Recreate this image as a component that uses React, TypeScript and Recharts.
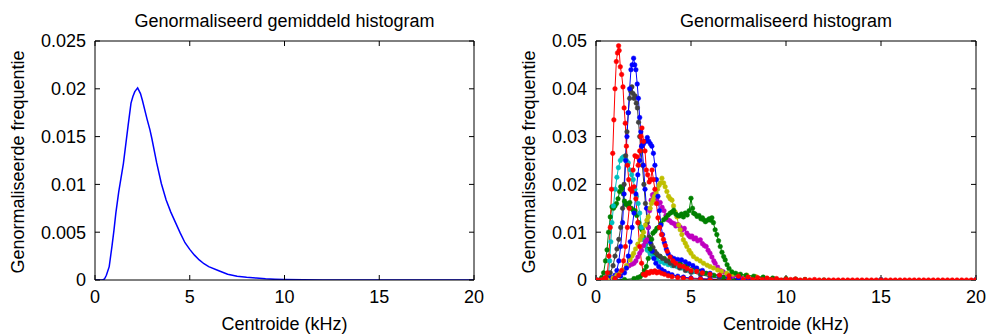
import { LineChart, Line, XAxis, YAxis } from 'recharts';

type Pt = [number, number];

const xTicks = [0, 5, 10, 15, 20];
const meanTicks = [0, 0.005, 0.01, 0.015, 0.02, 0.025];
const perTicks = [0, 0.01, 0.02, 0.03, 0.04, 0.05];

// averaged normalised histogram (kHz, freq)
const meanHist: Pt[] = [
  [0, 0], [0.25, 0], [0.4, 0], [0.5, 0.0001], [0.6, 0.0005], [0.75, 0.0014], [0.9, 0.0036],
  [1.0, 0.0052], [1.1, 0.007], [1.25, 0.0092], [1.5, 0.0122], [1.75, 0.0162], [1.9, 0.0185],
  [2.0, 0.0192], [2.1, 0.0197], [2.25, 0.0201], [2.4, 0.0195], [2.5, 0.0188], [2.75, 0.0168],
  [2.9, 0.0157], [3.0, 0.0148], [3.25, 0.0123], [3.5, 0.0101], [3.75, 0.0084], [4.0, 0.0071],
  [4.25, 0.006], [4.5, 0.0049], [4.75, 0.0039], [5.0, 0.0032], [5.25, 0.0026], [5.5, 0.0021],
  [5.75, 0.0017], [6.0, 0.0014], [6.5, 0.001], [7.0, 0.0006], [7.5, 0.0004], [8.0, 0.00028],
  [8.5, 0.0002], [9.0, 0.00012], [9.5, 0.00007], [10, 0.00004], [11, 0.00002], [12, 0], [20, 0],
];

// individual normalised histograms
const greenA: Pt[] = [
  [0, 0], [0.2, 0], [0.3, 0.0005], [0.4, 0.0015], [0.5, 0.004], [0.58, 0.0063], [0.66, 0.01],
  [0.75, 0.0132], [0.84, 0.0153], [0.92, 0.015], [1.0, 0.0155], [1.08, 0.016], [1.16, 0.017],
  [1.24, 0.0185], [1.3, 0.0195], [1.37, 0.0192], [1.44, 0.018], [1.5, 0.0165], [1.57, 0.0158],
  [1.63, 0.016], [1.7, 0.0155], [1.78, 0.0162], [1.86, 0.015], [1.96, 0.0146], [2.05, 0.0145],
  [2.15, 0.0135], [2.25, 0.012], [2.35, 0.011], [2.42, 0.0105], [2.5, 0.009], [2.6, 0.0075],
  [2.7, 0.0065], [2.85, 0.0058], [3.0, 0.0052], [3.2, 0.0049], [3.38, 0.0049], [3.6, 0.0045],
  [3.8, 0.004], [4.1, 0.0037], [4.43, 0.0035], [4.8, 0.003], [5.2, 0.0022], [5.5, 0.0018],
  [5.8, 0.0014], [6.2, 0.001], [6.7, 0.0006], [7.2, 0.0003], [8, 0.0001], [9, 0], [10, 0], [15, 0], [20, 0],
];

const cyan: Pt[] = [
  [0, 0], [0.3, 0], [0.5, 0.0005], [0.6, 0.001], [0.66, 0.0014], [0.72, 0.004], [0.78, 0.008],
  [0.84, 0.012], [0.92, 0.0155], [1.01, 0.019], [1.1, 0.0215], [1.18, 0.0235], [1.28, 0.025],
  [1.37, 0.0255], [1.45, 0.0258], [1.52, 0.0255], [1.6, 0.025], [1.7, 0.0245], [1.8, 0.023],
  [1.88, 0.022], [1.96, 0.021], [2.05, 0.019], [2.13, 0.0175], [2.22, 0.016], [2.3, 0.014],
  [2.4, 0.011], [2.5, 0.0084], [2.6, 0.0072], [2.7, 0.0062], [2.85, 0.0055], [3.0, 0.0048],
  [3.2, 0.0042], [3.4, 0.0038], [3.6, 0.0035], [3.8, 0.0032], [4.0, 0.003], [4.26, 0.0028],
  [4.5, 0.0025], [4.8, 0.002], [5.1, 0.0017], [5.5, 0.0014], [6, 0.001], [6.5, 0.0006],
  [7, 0.0003], [8, 0.0001], [9, 0], [10, 0], [15, 0], [20, 0],
];

const gray: Pt[] = [
  [0, 0], [0.4, 0], [0.6, 0.0005], [0.75, 0.0015], [0.9, 0.003], [1.0, 0.005], [1.1, 0.0065],
  [1.2, 0.0085], [1.3, 0.011], [1.4, 0.015], [1.48, 0.02], [1.56, 0.026], [1.63, 0.031],
  [1.7, 0.035], [1.77, 0.038], [1.83, 0.0395], [1.89, 0.0404], [1.95, 0.039], [2.0, 0.038],
  [2.06, 0.0385], [2.12, 0.037], [2.18, 0.036], [2.24, 0.033], [2.3, 0.03], [2.37, 0.027],
  [2.44, 0.024], [2.52, 0.02], [2.6, 0.016], [2.7, 0.012], [2.8, 0.009], [2.9, 0.0075],
  [3.0, 0.0068], [3.1, 0.006], [3.2, 0.0055], [3.35, 0.005], [3.5, 0.0045], [3.7, 0.004],
  [3.9, 0.0035], [4.1, 0.003], [4.4, 0.0025], [4.7, 0.002], [5.0, 0.0016], [5.5, 0.0011],
  [6, 0.0007], [6.5, 0.0004], [7, 0.0002], [8, 0], [10, 0], [15, 0], [20, 0],
];

const blueA: Pt[] = [
  [0, 0], [0.5, 0], [0.8, 0.0005], [1.0, 0.001], [1.1, 0.002], [1.2, 0.004], [1.3, 0.007],
  [1.4, 0.012], [1.48, 0.018], [1.56, 0.025], [1.63, 0.03], [1.7, 0.035], [1.77, 0.04],
  [1.84, 0.044], [1.9, 0.045], [1.98, 0.0464], [2.04, 0.045], [2.1, 0.044], [2.17, 0.041],
  [2.23, 0.038], [2.3, 0.034], [2.36, 0.031], [2.42, 0.028], [2.5, 0.024], [2.58, 0.019],
  [2.66, 0.015], [2.75, 0.011], [2.85, 0.008], [2.95, 0.006], [3.05, 0.0045], [3.15, 0.0035],
  [3.3, 0.0028], [3.45, 0.0022], [3.6, 0.0018], [3.8, 0.0014], [4.0, 0.0011], [4.3, 0.0008],
  [4.6, 0.0006], [5.0, 0.0004], [5.5, 0.0003], [6, 0.0002], [7, 0.0001], [8, 0], [10, 0], [15, 0], [20, 0],
];

const magenta: Pt[] = [
  [0, 0], [0.6, 0], [0.9, 0.0003], [1.1, 0.0008], [1.28, 0.0014], [1.45, 0.002], [1.6, 0.0025],
  [1.75, 0.003], [1.9, 0.0033], [2.0, 0.0035], [2.1, 0.004], [2.2, 0.0048], [2.3, 0.0056],
  [2.4, 0.0062], [2.5, 0.0072], [2.6, 0.008], [2.68, 0.0084], [2.75, 0.011], [2.82, 0.0145],
  [2.9, 0.0167], [2.97, 0.0178], [3.05, 0.018], [3.12, 0.0175], [3.2, 0.017], [3.28, 0.016],
  [3.38, 0.0162], [3.48, 0.0152], [3.58, 0.0145], [3.68, 0.0135], [3.78, 0.0126], [3.88, 0.0124],
  [3.98, 0.012], [4.1, 0.0118], [4.2, 0.0113], [4.3, 0.0116], [4.43, 0.0111], [4.55, 0.0105],
  [4.65, 0.0108], [4.78, 0.0098], [4.88, 0.0093], [4.96, 0.009], [5.05, 0.0092], [5.15, 0.0086],
  [5.25, 0.0088], [5.35, 0.0082], [5.49, 0.0084], [5.6, 0.0076], [5.7, 0.0072], [5.8, 0.007],
  [5.9, 0.0062], [6.0, 0.0056], [6.1, 0.0048], [6.2, 0.004], [6.27, 0.0035], [6.4, 0.0027],
  [6.55, 0.002], [6.7, 0.0017], [6.9, 0.0012], [7.2, 0.0008], [7.6, 0.0005], [8, 0.0003],
  [9, 0.0001], [10, 0], [15, 0], [20, 0],
];

const yellow: Pt[] = [
  [0, 0], [0.6, 0], [0.9, 0.0004], [1.1, 0.001], [1.3, 0.0016], [1.45, 0.0021], [1.6, 0.003],
  [1.8, 0.0042], [1.9, 0.005], [1.98, 0.0056], [2.08, 0.0065], [2.2, 0.0075], [2.33, 0.0084],
  [2.42, 0.0092], [2.5, 0.01], [2.6, 0.0115], [2.68, 0.0125], [2.75, 0.0132], [2.85, 0.015],
  [2.92, 0.016], [3.0, 0.0167], [3.08, 0.0175], [3.16, 0.0182], [3.24, 0.019], [3.32, 0.0198],
  [3.38, 0.0203], [3.47, 0.0213], [3.56, 0.0203], [3.64, 0.0195], [3.73, 0.0185], [3.82, 0.0175],
  [3.9, 0.017], [4.0, 0.0167], [4.08, 0.0155], [4.17, 0.0142], [4.26, 0.0132], [4.35, 0.0115],
  [4.43, 0.0105], [4.52, 0.0095], [4.6, 0.0084], [4.7, 0.0077], [4.78, 0.007], [4.9, 0.0062],
  [5.0, 0.0056], [5.13, 0.0049], [5.3, 0.0044], [5.48, 0.004], [5.66, 0.0035], [5.85, 0.0031],
  [6.0, 0.0028], [6.18, 0.0025], [6.4, 0.0021], [6.6, 0.0018], [6.88, 0.0014], [7.2, 0.0012],
  [7.5, 0.0011], [7.94, 0.001], [8.4, 0.0007], [9, 0.0003], [10, 0.0001], [11, 0], [15, 0], [20, 0],
];

const greenB: Pt[] = [
  [0, 0], [1.0, 0], [1.5, 0.0001], [2.0, 0.0003], [2.2, 0.0005], [2.33, 0.0007], [2.45, 0.0012],
  [2.55, 0.002], [2.65, 0.0028], [2.75, 0.0045], [2.85, 0.0065], [2.93, 0.0085], [3.0, 0.0098],
  [3.1, 0.0102], [3.2, 0.0108], [3.3, 0.011], [3.42, 0.0118], [3.56, 0.0126], [3.68, 0.013],
  [3.8, 0.0136], [3.91, 0.014], [4.0, 0.0142], [4.09, 0.0146], [4.2, 0.0138], [4.3, 0.0135],
  [4.4, 0.0134], [4.5, 0.0138], [4.6, 0.0132], [4.7, 0.014], [4.8, 0.0136], [4.9, 0.0145],
  [5.0, 0.0171], [5.08, 0.015], [5.13, 0.014], [5.22, 0.0138], [5.32, 0.0133], [5.42, 0.0135],
  [5.52, 0.0128], [5.6, 0.013], [5.66, 0.0126], [5.76, 0.0122], [5.86, 0.0125], [5.96, 0.0128],
  [6.04, 0.0125], [6.1, 0.013], [6.18, 0.012], [6.27, 0.0105], [6.36, 0.0095], [6.45, 0.0082],
  [6.54, 0.007], [6.63, 0.0058], [6.72, 0.0049], [6.8, 0.0042], [6.9, 0.0032], [7.0, 0.0024],
  [7.15, 0.0017], [7.35, 0.0014], [7.6, 0.0012], [7.9, 0.001], [8.3, 0.0008], [8.8, 0.0006],
  [9.3, 0.0004], [10, 0.0003], [10.5, 0.0002], [11, 0.0001], [12, 0], [15, 0], [20, 0],
];

const blueB: Pt[] = [
  [0, 0], [0.5, 0], [1.0, 0.0003], [1.3, 0.0008], [1.5, 0.0015], [1.6, 0.0025], [1.7, 0.005],
  [1.8, 0.008], [1.9, 0.011], [2.0, 0.014], [2.1, 0.018], [2.2, 0.022], [2.3, 0.025], [2.4, 0.028],
  [2.5, 0.0285], [2.6, 0.029], [2.7, 0.0298], [2.78, 0.029], [2.86, 0.0285], [2.94, 0.028],
  [3.02, 0.0265], [3.1, 0.024], [3.18, 0.021], [3.26, 0.0175], [3.34, 0.0145], [3.42, 0.0115],
  [3.5, 0.0095], [3.6, 0.0078], [3.7, 0.0065], [3.8, 0.0055], [3.95, 0.0048], [4.1, 0.0045],
  [4.3, 0.0043], [4.5, 0.0042], [4.7, 0.0038], [4.9, 0.0034], [5.1, 0.003], [5.3, 0.0025],
  [5.6, 0.002], [6.0, 0.0014], [6.5, 0.0009], [7, 0.0005], [7.5, 0.0003], [8, 0.0001], [9, 0],
  [10, 0], [15, 0], [20, 0],
];

const redB: Pt[] = [
  [0, 0], [0.5, 0], [1.0, 0.0003], [1.2, 0.001], [1.35, 0.002], [1.45, 0.004], [1.55, 0.007],
  [1.65, 0.011], [1.75, 0.015], [1.85, 0.019], [1.95, 0.023], [2.05, 0.026], [2.15, 0.0258],
  [2.22, 0.024], [2.3, 0.027], [2.36, 0.03], [2.42, 0.0318], [2.5, 0.029], [2.58, 0.027],
  [2.65, 0.023], [2.72, 0.022], [2.8, 0.0205], [2.88, 0.021], [2.95, 0.023], [3.02, 0.021],
  [3.1, 0.019], [3.18, 0.016], [3.26, 0.013], [3.35, 0.011], [3.45, 0.0095], [3.55, 0.0085],
  [3.65, 0.0072], [3.75, 0.006], [3.9, 0.0048], [4.05, 0.004], [4.2, 0.0035], [4.4, 0.003],
  [4.6, 0.0028], [4.8, 0.0024], [5.0, 0.002], [5.3, 0.0018], [5.6, 0.0015], [6.0, 0.0012],
  [6.5, 0.001], [7.0, 0.0009], [7.5, 0.0008], [8.0, 0.0006], [8.5, 0.0005], [9.0, 0.0004],
  [9.5, 0.0003], [10, 0.0002], [10.5, 0.0002], [11, 0.0001], [11.5, 0.0001], [12, 0],
  [12.5, 0], [13, 0], [13.5, 0], [14, 0], [14.5, 0], [15, 0], [15.5, 0], [16, 0], [16.5, 0],
  [17, 0], [17.5, 0], [18, 0], [18.5, 0], [19, 0], [19.5, 0], [20, 0],
];

const redA: Pt[] = [
  [0, 0], [0.2, 0], [0.4, 0.0002], [0.5, 0.0005], [0.6, 0.0015], [0.68, 0.005], [0.75, 0.011],
  [0.82, 0.019], [0.88, 0.0265], [0.94, 0.0335], [1.0, 0.04], [1.07, 0.0457], [1.13, 0.0475],
  [1.19, 0.049], [1.22, 0.048], [1.28, 0.0446], [1.35, 0.043], [1.42, 0.0404], [1.48, 0.036],
  [1.54, 0.0328], [1.6, 0.028], [1.66, 0.024], [1.72, 0.021], [1.8, 0.019], [1.9, 0.0185],
  [2.0, 0.0195], [2.1, 0.017], [2.2, 0.012], [2.3, 0.007], [2.4, 0.0035], [2.5, 0.0012],
  [2.6, 0.001], [2.7, 0.0016], [2.8, 0.0014], [2.9, 0.0018], [3.0, 0.0016], [3.1, 0.0019],
  [3.2, 0.0015], [3.3, 0.0017], [3.45, 0.0014], [3.6, 0.0012], [3.8, 0.0009], [4.0, 0.0007],
  [4.3, 0.0005], [4.6, 0.0004], [5.0, 0.0003], [5.5, 0.0002], [6, 0.0001], [7, 0.0001],
  [7.75, 0.0001], [8.25, 0.0001], [8.75, 0.0001], [9.25, 0.0001], [9.75, 0], [10.25, 0.0001],
  [10.75, 0], [11.25, 0], [11.75, 0], [12.25, 0], [12.75, 0], [13.25, 0], [13.75, 0], [14.25, 0],
  [14.75, 0], [15.25, 0], [15.75, 0], [16.25, 0], [16.75, 0], [17.25, 0], [17.75, 0], [18.25, 0],
  [18.75, 0], [19.25, 0], [19.75, 0], [20, 0],
];

const series = [
  { key: 'greenA', color: '#008000', pts: greenA },
  { key: 'cyan', color: '#00bfbf', pts: cyan },
  { key: 'gray', color: '#404040', pts: gray },
  { key: 'blueA', color: '#0000ff', pts: blueA },
  { key: 'magenta', color: '#bf00bf', pts: magenta },
  { key: 'yellow', color: '#bfbf00', pts: yellow },
  { key: 'greenB', color: '#008000', pts: greenB },
  { key: 'blueB', color: '#0000ff', pts: blueB },
  { key: 'redB', color: '#ff0000', pts: redB },
  { key: 'redA', color: '#ff0000', pts: redA },
];

const toData = (pts: Pt[]) => pts.map(([x, y]) => ({ x, y }));

const FONT = '"Liberation Sans", Arial, Helvetica, sans-serif';
const tickStyle = { fill: '#000', fontSize: 18, fontFamily: FONT };
const noLabel = () => '';

// box with inward ticks on all four sides, like matlab
function frame(yTicks: number[], yMax: number) {
  return [
    <XAxis key="xb" xAxisId="b" type="number" dataKey="x" domain={[0, 20]} ticks={xTicks} interval={0}
      tickSize={-5} tickMargin={15} tick={tickStyle} stroke="#000" height={30} allowDataOverflow />,
    <XAxis key="xt" xAxisId="t" orientation="top" type="number" dataKey="x" domain={[0, 20]} ticks={xTicks}
      interval={0} tickSize={-5} tickFormatter={noLabel} stroke="#000" height={1} allowDataOverflow />,
    <YAxis key="yl" yAxisId="l" type="number" domain={[0, yMax]} ticks={yTicks} interval={0}
      tickSize={-5} tickMargin={14} tick={tickStyle} stroke="#000" width={60} allowDataOverflow />,
    <YAxis key="yr" yAxisId="r" orientation="right" type="number" domain={[0, yMax]} ticks={yTicks}
      interval={0} tickSize={-5} tickFormatter={noLabel} stroke="#000" width={1} allowDataOverflow />,
  ];
}

// invisible series so the top / right axes have something bound to them
const boxPts = toData([[0, 0], [20, 0]]);

const abs = (left: number, top: number, extra: React.CSSProperties = {}): React.CSSProperties => ({
  position: 'absolute', left, top, fontFamily: FONT, fontSize: 18, lineHeight: 1, color: '#000',
  whiteSpace: 'nowrap', ...extra,
});

export default function App() {
  return (
    <div style={{ position: 'absolute', left: 0, top: 0, width: 989, height: 334, background: '#fff', overflow: 'hidden' }}>
      <div style={{ position: 'absolute', left: 0, top: 0 }}>
        <LineChart width={494} height={334} margin={{ top: 40, right: 19, bottom: 24, left: 35 }}>
          {frame(meanTicks, 0.025)}
          <Line xAxisId="t" yAxisId="r" data={boxPts} dataKey="y" stroke="none" dot={false}
            isAnimationActive={false} />
          <Line xAxisId="b" yAxisId="l" data={toData(meanHist)} dataKey="y" type="linear" stroke="#0000ff"
            strokeWidth={1.5} dot={false} isAnimationActive={false} />
        </LineChart>
      </div>
      <div style={{ position: 'absolute', left: 495, top: 0 }}>
        <LineChart width={494} height={334} margin={{ top: 40, right: 12, bottom: 24, left: 41 }}>
          {frame(perTicks, 0.05)}
          <Line xAxisId="t" yAxisId="r" data={boxPts} dataKey="y" stroke="none" dot={false}
            isAnimationActive={false} />
          {series.map((s) => (
            <Line key={s.key} xAxisId="b" yAxisId="l" data={toData(s.pts)} dataKey="y" type="linear"
              stroke={s.color} strokeWidth={1} dot={{ r: 2.3, fill: s.color, stroke: s.color, strokeWidth: 0.5 }}
              isAnimationActive={false} />
          ))}
        </LineChart>
      </div>

      <div style={abs(284.5, 12, { transform: 'translateX(-50%)' })}>Genormaliseerd gemiddeld histogram</div>
      <div style={abs(786, 12, { transform: 'translateX(-50%)' })}>Genormaliseerd histogram</div>
      <div style={abs(284.5, 315, { transform: 'translateX(-50%)' })}>Centroide (kHz)</div>
      <div style={abs(786, 315, { transform: 'translateX(-50%)' })}>Centroide (kHz)</div>
      <div style={abs(18, 162, { transform: 'translate(-50%, -50%) rotate(-90deg)' })}>Genormaliseerde frequentie</div>
      <div style={abs(529, 162, { transform: 'translate(-50%, -50%) rotate(-90deg)' })}>Genormaliseerde frequentie</div>
    </div>
  );
}
